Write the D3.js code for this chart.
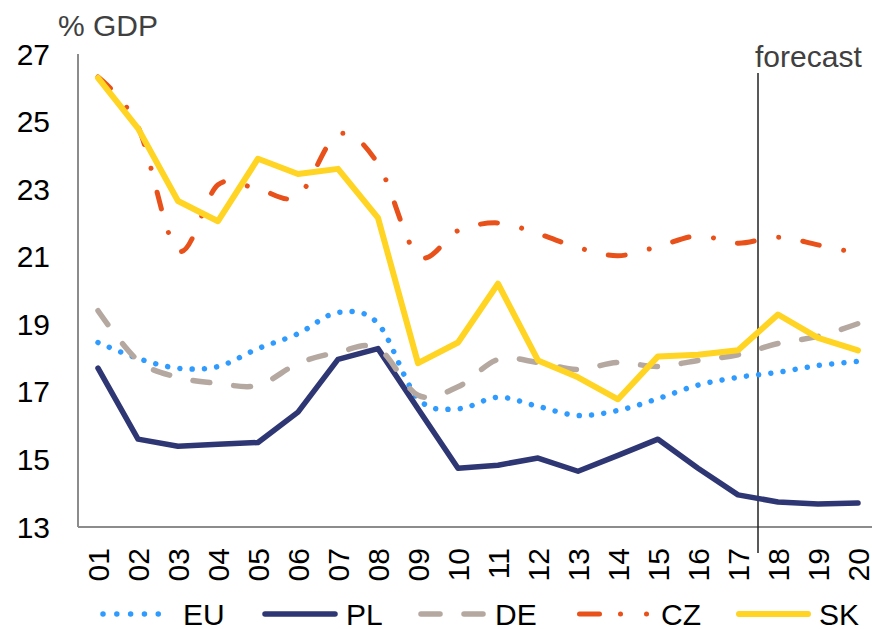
<!DOCTYPE html>
<html>
<head>
<meta charset="utf-8">
<script src="https://cdn.jsdelivr.net/npm/d3@7"></script>
<style>
  body { margin: 0; background: #fff; }
  svg text { font-family: "Liberation Sans", Arial, sans-serif; }
</style>
</head>
<body>
<div id="chart"></div>
<script>
// Government investment style chart, % of GDP, 2001-2020 (18+ forecast)
const years = ["01","02","03","04","05","06","07","08","09","10",
               "11","12","13","14","15","16","17","18","19","20"];
const yTicks = [13, 15, 17, 19, 21, 23, 25, 27];

const euValues = [18.46, 17.99, 17.7, 17.75, 18.28, 18.72, 19.35, 19.02, 16.8, 16.5,
                  16.84, 16.57, 16.3, 16.45, 16.8, 17.2, 17.43, 17.58, 17.78, 17.9];
const plValues = [17.7, 15.6, 15.39, 15.45, 15.5, 16.4, 17.96, 18.28, 16.5, 14.74,
                  14.83, 15.04, 14.65, 15.12, 15.6, 14.74, 13.95, 13.74, 13.68, 13.71];
const deValues = [19.4, 17.93, 17.43, 17.25, 17.19, 17.84, 18.17, 18.29, 16.9, 17.15,
                  17.96, 17.87, 17.66, 17.87, 17.75, 17.93, 18.1, 18.43, 18.64, 19.02];
const czValues = [26.32, 24.85, 21.18, 23.13, 23.0, 22.8, 24.62, 23.75, 21.03, 21.77,
                  22.0, 21.68, 21.27, 21.03, 21.3, 21.62, 21.4, 21.58, 21.35, 21.1];
const skValues = [26.29, 24.8, 22.65, 22.05, 23.9, 23.45, 23.6, 22.15, 17.85, 18.46,
                  20.2, 17.93, 17.43, 16.78, 18.05, 18.1, 18.23, 19.29, 18.6, 18.23];

const forecastStart = "18";

const series = [
  { name: "EU", values: euValues, color: "#2f9bff", width: 5.5, dash: "0.01 12.3", curve: d3.curveCardinal.tension(0),
    legendX: [103, 172], legendDash: "0.01 13.8" },
  { name: "PL", values: plValues, color: "#2e3673", width: 5.5, dash: null, curve: d3.curveLinear,
    legendX: [265, 335], legendDash: null },
  { name: "DE", values: deValues, color: "#b5a8a0", width: 5.5, dash: "17 24", curve: d3.curveCardinal.tension(0),
    legendX: [421, 484], legendDash: "19 24" },
  { name: "CZ", values: czValues, color: "#e8511a", width: 5, dash: "17 24.8 0.01 24.5", curve: d3.curveCardinal.tension(0),
    legendX: [579.5, 650], legendDash: "20 21 0.01 26 0.01 40" },
  { name: "SK", values: skValues, color: "#ffd422", width: 6, dash: null, curve: d3.curveLinear,
    legendX: [739, 808], legendDash: null }
];

const W = 872, H = 629;
const svg = d3.select("#chart").append("svg")
  .attr("width", W)
  .attr("height", H);

const x = d3.scaleBand().domain(years).range([78, 878]);
const xc = d => x(d) + x.bandwidth() / 2;
const y = d3.scaleLinear().domain([13, 27]).range([527, 54]);

// axes lines
svg.append("line")
  .attr("x1", 78).attr("x2", 78)
  .attr("y1", y(27)).attr("y2", y(13))
  .attr("stroke", "#8c8c8c").attr("stroke-width", 2);
svg.append("line")
  .attr("x1", 78).attr("x2", 872)
  .attr("y1", y(13)).attr("y2", y(13))
  .attr("stroke", "#8c8c8c").attr("stroke-width", 2);

// y tick labels
svg.append("g").selectAll("text")
  .data(yTicks)
  .enter().append("text")
  .attr("x", 50)
  .attr("y", d => y(d))
  .attr("dy", "0.35em")
  .attr("text-anchor", "end")
  .attr("font-size", 30)
  .attr("fill", "#000")
  .text(d => d);

// x tick labels (rotated)
svg.append("g").selectAll("text")
  .data(years)
  .enter().append("text")
  .attr("transform", d => `translate(${xc(d)},548) rotate(-90)`)
  .attr("dy", "0.35em")
  .attr("text-anchor", "end")
  .attr("font-size", 30)
  .attr("fill", "#000")
  .text(d => d);

// unit label
svg.append("text")
  .attr("x", 58).attr("y", 36)
  .attr("font-size", 30)
  .attr("fill", "#404040")
  .text("% GDP");

// forecast marker
const fx = x(forecastStart);
svg.append("line")
  .attr("x1", fx).attr("x2", fx)
  .attr("y1", 73).attr("y2", 553)
  .attr("stroke", "#222").attr("stroke-width", 1.5);
svg.append("text")
  .attr("x", fx - 3).attr("y", 67)
  .attr("font-size", 30)
  .attr("fill", "#404040")
  .text("forecast");

// lines
series.forEach(s => {
  const line = d3.line()
    .x((d, i) => xc(years[i]))
    .y(d => y(d))
    .curve(s.curve);
  svg.append("path")
    .datum(s.values)
    .attr("d", line)
    .attr("fill", "none")
    .attr("stroke", s.color)
    .attr("stroke-width", s.width)
    .attr("stroke-linecap", "round")
    .attr("stroke-linejoin", "round")
    .attr("stroke-dasharray", s.dash);
});

// legend
const legendY = 614;
series.forEach(s => {
  svg.append("line")
    .attr("x1", s.legendX[0]).attr("x2", s.legendX[1])
    .attr("y1", legendY).attr("y2", legendY)
    .attr("stroke", s.color)
    .attr("stroke-width", s.width)
    .attr("stroke-linecap", "round")
    .attr("stroke-dasharray", s.legendDash);
  svg.append("text")
    .attr("x", s.legendX[1] + 11)
    .attr("y", legendY)
    .attr("dy", "0.35em")
    .attr("font-size", 30)
    .attr("fill", "#000")
    .text(s.name);
});
</script>
</body>
</html>
